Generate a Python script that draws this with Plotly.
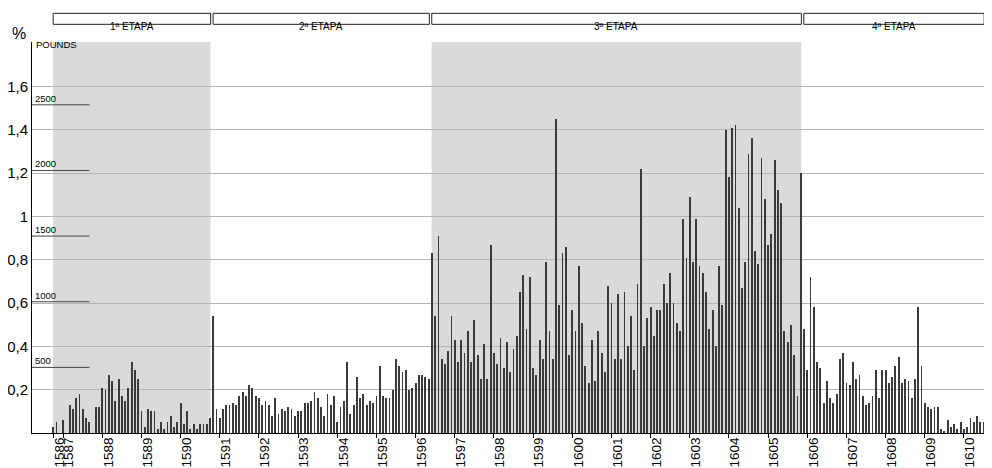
import plotly.graph_objects as go

# ---------------- data ----------------
first_year, first_month = 1586, 10          # series starts October 1586 (monthly)
values = [
    0.03, 0.05, 0.00, 0.06, 0.00, 0.13, 0.11, 0.16, 0.18, 0.11, 0.07, 0.05,
    0.00, 0.12, 0.12, 0.21, 0.20, 0.27, 0.24, 0.15, 0.25, 0.17, 0.15, 0.21,
    0.33, 0.29, 0.25, 0.10, 0.03, 0.11, 0.10, 0.10, 0.02, 0.05, 0.02, 0.05,
    0.08, 0.03, 0.05, 0.14, 0.04, 0.10, 0.02, 0.04, 0.02, 0.04, 0.04, 0.04,
    0.07, 0.54, 0.11, 0.07, 0.11, 0.13, 0.13, 0.14, 0.13, 0.17, 0.19, 0.17,
    0.22, 0.21, 0.17, 0.16, 0.13, 0.15, 0.13, 0.08, 0.16, 0.09, 0.11, 0.10,
    0.12, 0.11, 0.08, 0.10, 0.10, 0.14, 0.14, 0.15, 0.19, 0.16, 0.12, 0.08,
    0.18, 0.13, 0.17, 0.05, 0.12, 0.15, 0.33, 0.09, 0.13, 0.26, 0.16, 0.18,
    0.13, 0.15, 0.14, 0.17, 0.31, 0.17, 0.16, 0.16, 0.20, 0.34, 0.31, 0.28,
    0.29, 0.20, 0.21, 0.23, 0.27, 0.27, 0.26, 0.25, 0.83, 0.54, 0.91, 0.34,
    0.32, 0.38, 0.54, 0.43, 0.33, 0.43, 0.37, 0.47, 0.33, 0.52, 0.36, 0.25,
    0.41, 0.25, 0.87, 0.37, 0.32, 0.44, 0.30, 0.42, 0.28, 0.39, 0.45, 0.65,
    0.73, 0.48, 0.72, 0.30, 0.27, 0.43, 0.34, 0.79, 0.47, 0.34, 1.45, 0.59,
    0.83, 0.86, 0.36, 0.57, 0.47, 0.77, 0.51, 0.31, 0.23, 0.43, 0.24, 0.47,
    0.37, 0.28, 0.68, 0.60, 0.34, 0.64, 0.34, 0.65, 0.40, 0.54, 0.29, 0.69,
    1.22, 0.40, 0.53, 0.58, 0.45, 0.57, 0.57, 0.69, 0.60, 0.74, 0.60, 0.51,
    0.47, 0.99, 0.81, 1.09, 0.79, 0.99, 0.77, 0.74, 0.65, 0.48, 0.57, 0.40,
    0.77, 0.59, 1.40, 1.18, 1.41, 1.42, 1.04, 0.67, 0.79, 1.29, 1.36, 0.84,
    0.78, 1.27, 1.08, 0.87, 0.92, 1.26, 1.12, 1.06, 0.47, 0.42, 0.50, 0.36,
    0.17, 1.20, 0.48, 0.29, 0.72, 0.58, 0.33, 0.30, 0.14, 0.24, 0.16, 0.14,
    0.18, 0.34, 0.37, 0.23, 0.22, 0.33, 0.25, 0.27, 0.17, 0.13, 0.14, 0.17,
    0.29, 0.16, 0.29, 0.29, 0.23, 0.26, 0.31, 0.35, 0.23, 0.25, 0.24, 0.16,
    0.25, 0.58, 0.31, 0.14, 0.12, 0.11, 0.12, 0.12, 0.02, 0.01, 0.06, 0.03,
    0.04, 0.02, 0.05, 0.02, 0.03, 0.07, 0.05, 0.08, 0.05, 0.05,
]
stage_names = ["1ª ETAPA", "2ª ETAPA", "3ª ETAPA", "4ª ETAPA"]
stage_first = [(1586, 10), (1590, 11), (1596, 6), (1605, 12)]   # first month of each stage
stage_last = [(1590, 10), (1596, 5), (1605, 11), (1610, 7)]     # last month of each stage
stage_shaded = [True, False, True, False]
pct_ticks = [0.2, 0.4, 0.6, 0.8, 1.0, 1.2, 1.4, 1.6]
pct_labels = ["0,2", "0,4", "0,6", "0,8", "1", "1,2", "1,4", "1,6"]
pound_ticks = [500, 1000, 1500, 2000, 2500]
pct_per_pound = 1.515 / 2500

# ---------------- helpers ----------------
def midx(year, month):
    return (year - first_year) * 12 + (month - first_month)

x = list(range(len(values)))
tick_years = list(range(first_year, first_year + 25))
tick_pos = [0] + [midx(y, 1) for y in tick_years[1:]]

# the page places the figure 8 px from the window's top-left corner
OFF = 8
W, H = 992 - OFF, 468 - OFF
PL, PR, PT, PB = 32, 992, 42, 433.3          # plot area in window pixels
L, R, T, B = PL - OFF, 992 - PR, PT - OFF, 468 - PB
pw, ph = PR - PL, PB - PT
def px_x(px):
    return (px - PL) / pw
def px_y(py):
    return (PB - py) / ph

YMAX = 1.805
FONT = "Arial, Liberation Sans, sans-serif"

fig = go.Figure()
fig.add_trace(go.Bar(x=x, y=values, width=0.26,
                     marker=dict(color="#3a3a3a", line=dict(width=0)),
                     showlegend=False, hoverinfo="skip"))
# invisible trace to anchor the pounds axis
fig.add_trace(go.Scatter(x=[None], y=[None], yaxis="y2", showlegend=False))

shapes, annots = [], []
for name, f, l, sh in zip(stage_names, stage_first, stage_last, stage_shaded):
    a, b = midx(*f), midx(*l)
    if sh:
        shapes.append(dict(type="rect", xref="x", yref="paper", x0=a - 0.1, x1=b + 0.15,
                           y0=0, y1=1, fillcolor="#dadada", line=dict(width=0), layer="below"))
    shapes.append(dict(type="rect", xref="x", yref="paper", x0=a - 0.05, x1=b + 0.2,
                       y0=px_y(24.3), y1=px_y(13.3), fillcolor="white",
                       line=dict(color="#222222", width=1)))
    annots.append(dict(text=name, xref="x", yref="paper", x=(a + b) / 2, y=px_y(18.8),
                       showarrow=False, font=dict(size=10, color="black", family=FONT)))

for p in pound_ticks:
    shapes.append(dict(type="line", xref="paper", yref="y2", x0=0, x1=px_x(89.5),
                       y0=p, y1=p, line=dict(color="#444444", width=1)))
    annots.append(dict(text=str(p), xref="paper", yref="y2", x=px_x(33.5), y=p,
                       xanchor="left", yanchor="bottom", showarrow=False, borderpad=0,
                       font=dict(size=9.5, color="black", family=FONT)))

annots.append(dict(text="POUNDS", xref="paper", yref="paper", x=px_x(33.5), y=px_y(44.5),
                   xanchor="left", yanchor="middle", showarrow=False,
                   font=dict(size=9.5, color="black", family=FONT)))
annots.append(dict(text="%", xref="paper", yref="paper", x=px_x(19), y=px_y(33.5),
                   xanchor="center", yanchor="middle", showarrow=False,
                   font=dict(size=16, color="black", family=FONT)))

fig.update_layout(
    width=W, height=H,
    margin=dict(l=L, r=R, t=T, b=B, autoexpand=False),
    paper_bgcolor="white", plot_bgcolor="white",
    bargap=0, showlegend=False,
    font=dict(family=FONT, color="black"),
    shapes=shapes, annotations=annots,
    xaxis=dict(range=[-6.53, 287.6], tickmode="array", tickvals=tick_pos,
               ticktext=[str(y) for y in tick_years], tickangle=-90,
               ticks="outside", ticklen=4, tickcolor="black", tickwidth=1,
               ticklabelshift=6, ticklabelstandoff=-6,
               tickfont=dict(size=13.5, color="black", family=FONT),
               showline=True, linecolor="black", linewidth=1,
               showgrid=False, zeroline=False, automargin=False, fixedrange=True),
    yaxis=dict(range=[0, YMAX], tickmode="array", tickvals=pct_ticks, ticktext=pct_labels,
               tickfont=dict(size=15, color="black", family=FONT),
               showline=True, linecolor="black", linewidth=1,
               showgrid=True, gridcolor="#b4b4b4", gridwidth=1,
               zeroline=False, ticks="", automargin=False, fixedrange=True),
    yaxis2=dict(range=[0, YMAX / pct_per_pound], overlaying="y", side="left",
                visible=False, fixedrange=True),
)

fig.write_html("out.html")
